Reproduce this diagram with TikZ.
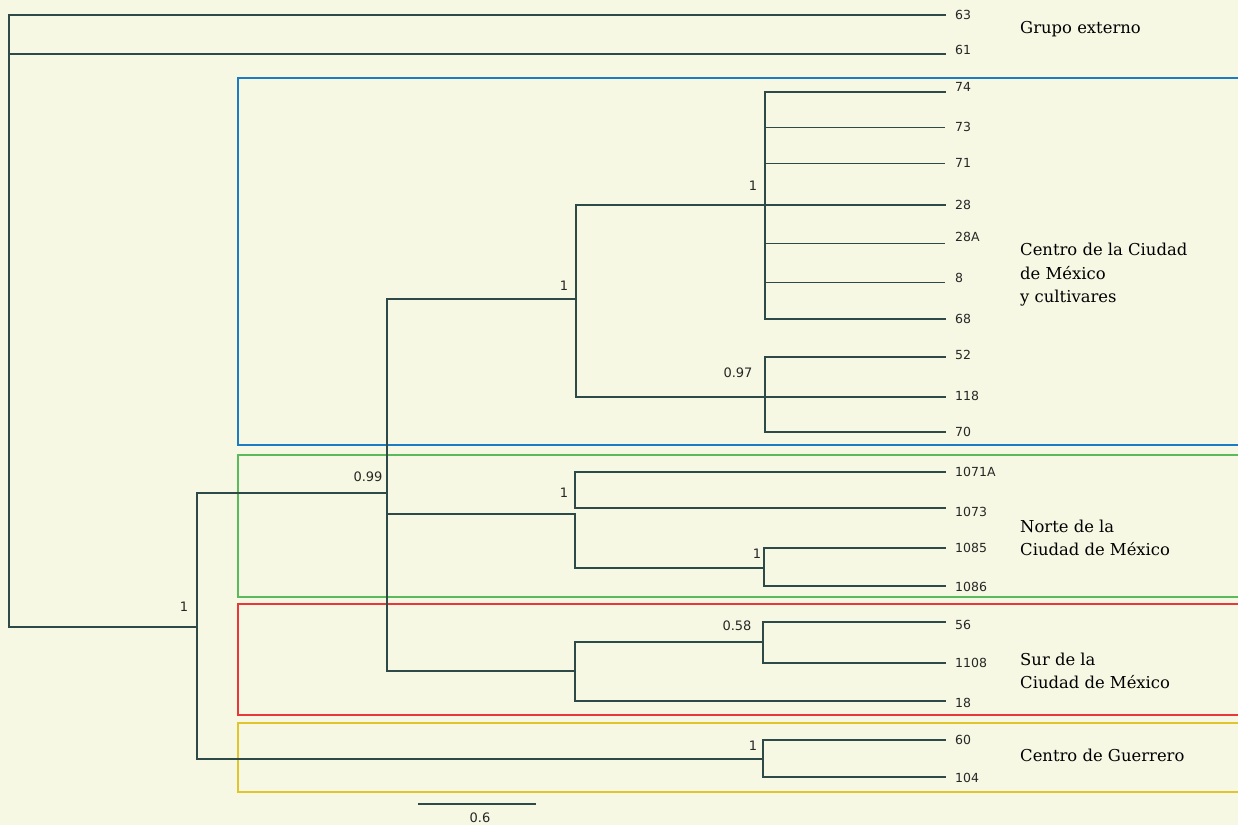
\documentclass[tikz,border=0pt]{standalone}
\usepackage{fontspec}
\setmainfont{DejaVu Serif}
\newfontfamily\numfont{DejaVu Sans}
\definecolor{bg}{HTML}{F7F8E3}
\definecolor{br}{HTML}{2E4A48}
\definecolor{cblue}{HTML}{1B7CC4}
\definecolor{cgreen}{HTML}{5BBA5B}
\definecolor{cred}{HTML}{E8383A}
\definecolor{cyellow}{HTML}{E0C52E}
\tikzset{
  branch/.style={draw=br, line width=2pt, line cap=rect},
  thinbranch/.style={draw=br, line width=1pt},
  leaf/.style={anchor=west, inner sep=0pt, font=\numfont\fontsize{12.5}{14}\selectfont, text=black!85},
  supp/.style={inner sep=0pt, font=\numfont\fontsize{13}{15}\selectfont, text=black!85},
  grp/.style={anchor=west, inner sep=0pt, align=left, font=\fontsize{16.4}{23.5}\selectfont, text=black},
  box/.style={line width=2pt}
}
\begin{document}
\begin{tikzpicture}[x=1pt,y=-1pt]
\useasboundingbox[fill=bg] (0,0) rectangle (1238,825);
% group boxes (open on the right)
\draw[box, cblue] (1240,78) -- (238,78) -- (238,445) -- (1240,445);
\draw[box, cgreen] (1240,455) -- (238,455) -- (238,597) -- (1240,597);
\draw[box, cred] (1240,604) -- (238,604) -- (238,715) -- (1240,715);
\draw[box, cyellow] (1240,723) -- (238,723) -- (238,792) -- (1240,792);
% leaf tips
\foreach \n/\y in {63/15,61/54,74/92,73/127,71/163,28/205,28A/243,8/282,68/319,52/357,118/397,70/432,1071A/472,1073/508,1085/548,1086/586,56/622,1108/663,18/701,60/740,104/777}{
  \coordinate (t\n) at (945,\y);
}
% leaf labels
\foreach \n/\y in {63/15,61/50,74/87,73/127,71/163,28/205,28A/237,8/278,68/319,52/355,118/396,70/432,1071A/472,1073/512,1085/548,1086/587,56/625,1108/663,18/703,60/740,104/778}{
  \node[leaf] (L\n) at (955,\y) {\n};
}
% internal nodes
\coordinate (r) at (9,627);
\coordinate (n1) at (197,627);
\coordinate (n2) at (387,493);
\coordinate (n3) at (576,299);
\coordinate (n4) at (765,205);
\coordinate (n5) at (765,397);
\coordinate (n6) at (575,514);
\coordinate (n6b) at (575,490);
\coordinate (n7) at (764,568);
\coordinate (n8) at (575,671);
\coordinate (n8a) at (763,642);
\coordinate (n9) at (763,759);
% tree
\draw[branch] (r) |- (t63);
\draw[branch] (r) |- (t61);
\draw[branch] (r) -- (n1);
\draw[branch] (n1) |- (n2);
\draw[branch] (n1) |- (n9);
\draw[branch] (n2) |- (n3);
\draw[branch] (n2) |- (n6);
\draw[branch] (n2) |- (n8);
\draw[branch] (n3) |- (n4);
\draw[branch] (n3) |- (n5);
\draw[branch] (n4) |- (t74);
\draw[branch] (n4) |- (t28);
\draw[branch] (n4) |- (t68);
\draw[thinbranch] (n4) |- (t73);
\draw[thinbranch] (n4) |- (t71);
\draw[thinbranch] (n4) |- (t28A);
\draw[thinbranch] (n4) |- (t8);
\draw[branch] (n5) |- (t52);
\draw[branch] (n5) -- (t118);
\draw[branch] (n5) |- (t70);
\draw[branch] (n6b) |- (t1071A);
\draw[branch] (n6b) |- (t1073);
\draw[branch] (n6) |- (n7);
\draw[branch] (n7) |- (t1085);
\draw[branch] (n7) |- (t1086);
\draw[branch] (n8) |- (n8a);
\draw[branch] (n8) |- (t18);
\draw[branch] (n8a) |- (t56);
\draw[branch] (n8a) |- (t1108);
\draw[branch] (n9) |- (t60);
\draw[branch] (n9) |- (t104);
% support values
\node[supp] (s1) at (184,607) {1};
\node[supp] (s2) at (368,477) {0.99};
\node[supp] (s3) at (564,286) {1};
\node[supp] (s4) at (753,186) {1};
\node[supp] (s5) at (738,373) {0.97};
\node[supp] (s6) at (564,493) {1};
\node[supp] (s7) at (757,554) {1};
\node[supp] (s8) at (737,626) {0.58};
\node[supp] (s9) at (753,746) {1};
% group labels
\node[grp] (g1) at (1020,29) {Grupo externo};
\node[grp] (g2) at (1020,275) {Centro de la Ciudad\\de México\\y cultivares};
\node[grp] (g3) at (1020,538) {Norte de la\\Ciudad de México};
\node[grp] (g4) at (1020,671) {Sur de la\\Ciudad de México};
\node[grp] (g5) at (1020,755) {Centro de Guerrero};
% scale bar
\coordinate (sb1) at (418,804);
\coordinate (sb2) at (536,804);
\draw[branch, line cap=butt] (sb1) -- (sb2);
\node[supp] (sbl) at (480,818) {0.6};
\end{tikzpicture}
\end{document}
